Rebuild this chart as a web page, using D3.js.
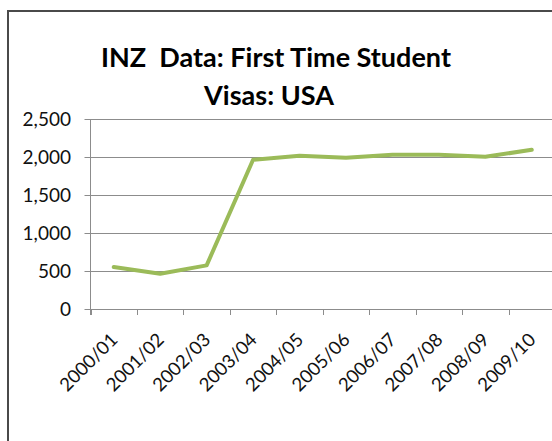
<!DOCTYPE html>
<html>
<head>
<meta charset="utf-8">
<script src="https://cdn.jsdelivr.net/npm/d3@7"></script>
<style>
  html, body { margin: 0; padding: 0; background: #fff; }
  svg { display: block; font-family: Lato, "Open Sans", sans-serif; }
</style>
</head>
<body>
<div id="chart"></div>
<script>
// Data
const years = ["2000/01", "2001/02", "2002/03", "2003/04", "2004/05",
               "2005/06", "2006/07", "2007/08", "2008/09", "2009/10"];
const visas = [553, 464, 574, 1964, 2015, 1990, 2030, 2028, 2003, 2095];
const yTicks = [0, 500, 1000, 1500, 2000, 2500];
const titleLines = ["INZ  Data: First Time Student", "Visas: USA"];

const width = 552, height = 441;
const plot = { left: 90.5, right: 555, top: 119, bottom: 309 };

const svg = d3.select("#chart").append("svg")
    .attr("width", width)
    .attr("height", height);

// outer chart frame
svg.append("rect")
    .attr("x", 8).attr("y", 11)
    .attr("width", 700).attr("height", 600)
    .attr("fill", "none")
    .attr("stroke", "#4a4a4a")
    .attr("stroke-width", 2);

// title
svg.append("g").selectAll("text")
    .data(titleLines)
    .join("text")
    .attr("x", (d, i) => i === 0 ? 276 : 269)
    .attr("y", (d, i) => 67 + i * 38)
    .attr("text-anchor", "middle")
    .attr("font-size", 27)
    .attr("font-weight", "bold")
    .attr("fill", "#000")
    .style("white-space", "pre")
    .text(d => d);

const x = d3.scaleBand()
    .domain(years)
    .range([plot.left, plot.right])
    .padding(0);

const y = d3.scaleLinear()
    .domain([0, 2500])
    .range([plot.bottom, plot.top]);

// gridlines
svg.append("g")
    .selectAll("line")
    .data(yTicks)
    .join("line")
    .attr("x1", plot.left - 6)
    .attr("x2", plot.right)
    .attr("y1", d => Math.round(y(d)) + 0.5)
    .attr("y2", d => Math.round(y(d)) + 0.5)
    .attr("stroke", "#8c8c8c")
    .attr("stroke-width", 1);

// y labels
svg.append("g")
    .selectAll("text")
    .data(yTicks)
    .join("text")
    .attr("x", 71)
    .attr("y", d => y(d))
    .attr("dy", "0.36em")
    .attr("text-anchor", "end")
    .attr("font-size", 19)
    .attr("fill", "#111")
    .text(d => d3.format(",")(d));

// y axis line
svg.append("line")
    .attr("x1", plot.left).attr("x2", plot.left)
    .attr("y1", plot.top).attr("y2", plot.bottom + 6)
    .attr("stroke", "#8c8c8c");

// x tick marks at category boundaries
const boundaries = years.map(d => x(d)).concat([plot.right]);
svg.append("g")
    .selectAll("line")
    .data(boundaries)
    .join("line")
    .attr("x1", d => Math.round(d) + 0.5)
    .attr("x2", d => Math.round(d) + 0.5)
    .attr("y1", Math.round(plot.bottom))
    .attr("y2", Math.round(plot.bottom) + 6)
    .attr("stroke", "#8c8c8c");

// x labels, rotated
svg.append("g")
    .selectAll("text")
    .data(years)
    .join("text")
    .attr("transform", d => `translate(${x(d) + x.bandwidth() / 2 + 5},${plot.bottom + 32}) rotate(-45)`)
    .attr("text-anchor", "end")
    .attr("font-size", 18.5)
    .attr("fill", "#111")
    .text(d => d);

// data line
const line = d3.line()
    .x((d, i) => x(years[i]) + x.bandwidth() / 2)
    .y(d => y(d));

svg.append("path")
    .datum(visas)
    .attr("d", line)
    .attr("fill", "none")
    .attr("stroke", "#9bbb59")
    .attr("stroke-width", 4)
    .attr("stroke-linejoin", "round")
    .attr("stroke-linecap", "round");
</script>
</body>
</html>
